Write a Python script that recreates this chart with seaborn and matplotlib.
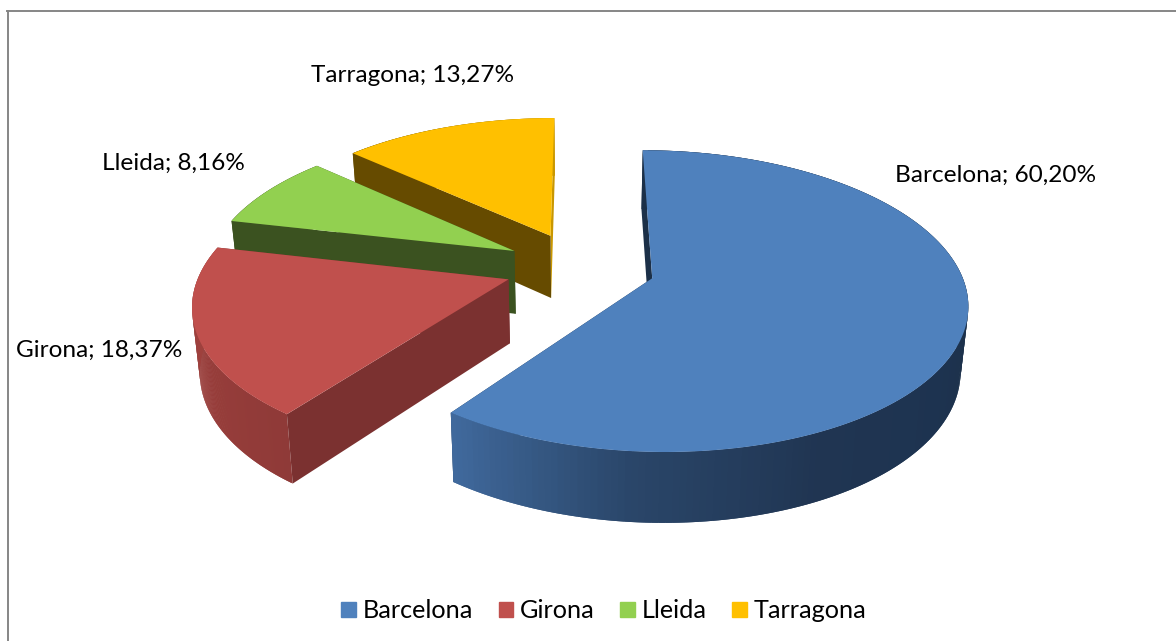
import numpy as np
import matplotlib
matplotlib.use('Agg')
import matplotlib.pyplot as plt
from matplotlib.patches import Patch
import seaborn as sns

provinces = ['Barcelona', 'Girona', 'Lleida', 'Tarragona']
shares = [60.20, 18.37, 8.16, 13.27]
share_labels = ['60,20%', '18,37%', '8,16%', '13,27%']

top_colors = ['#4f81bd', '#c0504d', '#92d050', '#ffc000']
cut_colors = ['#1c3048', '#7b3130', '#3b5220', '#664b00']
end_colors = ['#1c3048', '#7b3130', '#3b5220', '#c99700']
side_stops = [
    ['#1c3048', '#1c3048', '#1c3048', '#1c3048', '#1d3350', '#203552', '#2a4669', '#40699c'],
    ['#8f3a38', '#a5433f'],
    ['#3b5220', '#4f6d2a'],
    ['#664b00', '#c99700'],
]
label_xy = [(996, 175), (99, 350), (173, 163), (413, 76)]

# geometry of the fake 3d pie, in pixels
CX, CY = 580, 267
RX, RY = 307, 144
PERSP = 0.15
EXPLODE = 0.245
N = 200


def project(u, v):
    s = 1 / (1 + PERSP * v)
    return CX + RX * u * s, CY - RY * v * s


def drop(x, y):
    # bottom rim of the pie: moved down and a bit towards the centre
    return x + (CX - x) * 0.02, y + 64 + (y - 280) * 0.04


def draw_slice(ax, i, a0, a1):
    mid = np.radians((a0 + a1) / 2)
    eu, ev = EXPLODE * np.sin(mid), EXPLODE * np.cos(mid)
    angles = np.radians(np.linspace(a0, a1, N))
    xs, ys = project(eu + np.sin(angles), ev + np.cos(angles))
    bx, by = drop(xs, ys)
    px, py = project(eu, ev)
    qx, qy = drop(px, py)

    # hidden cut face goes under the wall
    ax.fill([px, xs[-1], bx[-1], qx], [py, ys[-1], by[-1], qy], color=end_colors[i], lw=0)

    # outer wall, in thin overlapping strips for the gradient
    pal = sns.blend_palette(side_stops[i], N - 1)
    for j in range(N - 1):
        k = min(j + 2, N - 1)
        ax.fill([xs[j], xs[k], bx[k], bx[j]], [ys[j], ys[k], by[k], by[j]], color=pal[j], lw=0)

    ax.fill([px, xs[0], bx[0], qx], [py, ys[0], by[0], qy], color=cut_colors[i], lw=0)
    ax.fill(np.r_[px, xs], np.r_[py, ys], color=top_colors[i], lw=0)


def main():
    sns.set_theme(style='white')
    plt.rcParams['font.family'] = ['Lato', 'DejaVu Sans']

    fig = plt.figure(figsize=(11.76, 6.41), dpi=100)
    ax = fig.add_axes([7.5 / 1176, 0, 1 - 7.5 / 1176, 1 - 10.5 / 641])
    ax.set_xlim(7.5, 1176)
    ax.set_ylim(641, 10.5)
    ax.set_xticks([])
    ax.set_yticks([])
    sns.despine(ax=ax, top=False, right=True, left=False, bottom=True)
    for side in ['top', 'left']:
        ax.spines[side].set_color('#868686')
        ax.spines[side].set_linewidth(1.4)

    edges = np.r_[0, np.cumsum(shares)] * 3.6
    # back slices first so the front ones sit on top
    for i in [3, 2, 1, 0]:
        draw_slice(ax, i, edges[i], edges[i + 1])

    for name, pct, (x, y) in zip(provinces, share_labels, label_xy):
        ax.text(x, y, f'{name}; {pct}', ha='center', va='center', fontsize=17.6, color='black')

    handles = [Patch(color=c, label=p) for c, p in zip(top_colors, provinces)]
    ax.legend(handles=handles, loc='center', bbox_to_anchor=(604, 611), bbox_transform=ax.transData,
              ncol=4, frameon=False, fontsize=18.2, handlelength=0.575, handleheight=0.575,
              handletextpad=0.28, columnspacing=1.0, borderpad=0, labelcolor='black')

    fig.savefig('out.png', dpi=100)


if __name__ == '__main__':
    main()
